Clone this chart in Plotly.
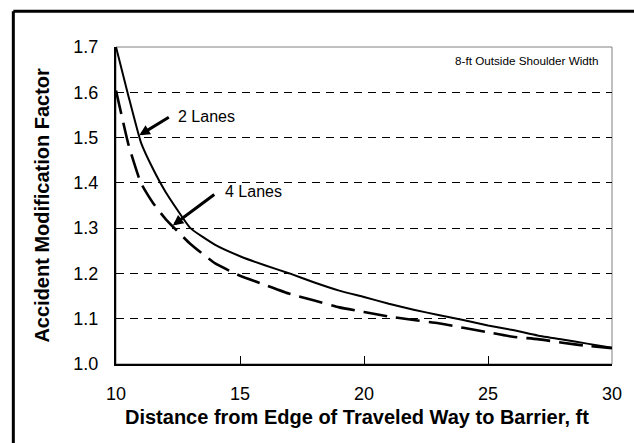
import plotly.graph_objects as go

# ---- data ----
distance_ft = [10, 10.5, 11, 11.5, 12, 13, 14, 15, 16, 17, 18, 19, 20,
               21, 22, 23, 24, 25, 26, 27, 28, 29, 30]
amf_2_lanes = [1.700, 1.592, 1.490, 1.430, 1.380, 1.300, 1.263, 1.238, 1.218, 1.200, 1.180, 1.162, 1.148,
               1.133, 1.120, 1.108, 1.097, 1.085, 1.075, 1.063, 1.054, 1.045, 1.036]
amf_4_lanes = [1.604, 1.485, 1.400, 1.355, 1.320, 1.265, 1.222, 1.195, 1.175, 1.155, 1.140, 1.125, 1.115,
               1.105, 1.097, 1.090, 1.080, 1.070, 1.060, 1.055, 1.047, 1.040, 1.035]
x_ticks = [10, 15, 20, 25, 30]
y_ticks = [1.0, 1.1, 1.2, 1.3, 1.4, 1.5, 1.6, 1.7]
series_names = ["2 Lanes", "4 Lanes"]
x_title = "Distance from Edge of Traveled Way to Barrier, ft"
y_title = "Accident Modification Factor"
note_text = "8-ft Outside Shoulder Width"

FONT = "Liberation Sans, Arial, Helvetica, sans-serif"

fig = go.Figure()
fig.add_trace(go.Scatter(x=distance_ft, y=amf_2_lanes, mode="lines", name=series_names[0],
                         line=dict(color="black", width=2, shape="spline", smoothing=0.4),
                         showlegend=False))
fig.add_trace(go.Scatter(x=distance_ft, y=amf_4_lanes, mode="lines", name=series_names[1],
                         line=dict(color="black", width=2.6, dash="24px,9px", shape="spline",
                                   smoothing=0.4),
                         showlegend=False))

fig.update_layout(
    width=634, height=443,
    margin=dict(l=116, r=22, t=47, b=79),
    paper_bgcolor="white", plot_bgcolor="white",
    font=dict(family=FONT, color="black"),
    showlegend=False,
)

fig.update_xaxes(
    range=[10, 30], tickvals=x_ticks, ticktext=[str(v) for v in x_ticks],
    showgrid=False, zeroline=False,
    showline=True, linecolor="black", linewidth=2,
    ticks="inside", ticklen=8, tickcolor="black", tickwidth=1,
    tickfont=dict(size=18, family=FONT, color="black"),
    ticklabelstandoff=12,
)
fig.update_yaxes(
    range=[1.0, 1.7], tickvals=y_ticks, ticktext=[f"{v:.1f}" for v in y_ticks],
    showgrid=True, gridcolor="black", gridwidth=1, griddash="8px,6px",
    zeroline=False,
    showline=True, linecolor="black", linewidth=2,
    ticks="inside", ticklen=4, tickcolor="black", tickwidth=1,
    tickfont=dict(size=18, family=FONT, color="black"),
    ticklabelstandoff=12,
)

shapes = [
    # plot area border (gray)
    dict(type="rect", xref="paper", yref="paper", x0=0, y0=0, x1=1, y1=1,
         line=dict(color="#808080", width=1), layer="below"),
    # outer black frame: left and top edges (right/bottom lie off-canvas)
    dict(type="line", xref="paper", yref="paper", x0=-0.207, y0=1.113, x1=1.06, y1=1.113,
         line=dict(color="black", width=3)),
    dict(type="line", xref="paper", yref="paper", x0=-0.207, y0=1.113, x1=-0.207, y1=-0.26,
         line=dict(color="black", width=3)),
]
fig.update_layout(shapes=shapes)

annotations = [
    dict(x=10.94, y=1.505, xref="x", yref="y", ax=31, ay=-19, text="", showarrow=True,
         arrowhead=2, arrowsize=0.7, arrowwidth=3, arrowcolor="black", standoff=0),
    dict(x=12.29, y=1.306, xref="x", yref="y", ax=43, ay=-32, text="", showarrow=True,
         arrowhead=2, arrowsize=0.7, arrowwidth=3, arrowcolor="black", standoff=0),
    dict(x=12.42, y=1.5455, xref="x", yref="y", text=series_names[0], showarrow=False,
         xanchor="left", yanchor="middle", font=dict(size=16, family=FONT)),
    dict(x=14.31, y=1.380, xref="x", yref="y", text=series_names[1], showarrow=False,
         xanchor="left", yanchor="middle", font=dict(size=16, family=FONT)),
    dict(x=29.55, y=1.6706, xref="x", yref="y", text=note_text, showarrow=False,
         xanchor="right", yanchor="middle", font=dict(size=11.7, family=FONT)),
    dict(x=0.485, y=-0.167, xref="paper", yref="paper", text=f"<b>{x_title}</b>",
         showarrow=False, xanchor="center", yanchor="middle", font=dict(size=20, family=FONT)),
    dict(x=-0.151, y=0.5, xref="paper", yref="paper", text=f"<b>{y_title}</b>",
         showarrow=False, xanchor="center", yanchor="middle", textangle=-90,
         font=dict(size=20, family=FONT)),
]
fig.update_layout(annotations=annotations)

fig.write_html("out.html", config={"displayModeBar": False},
               post_script="document.body.style.margin='0px';")
